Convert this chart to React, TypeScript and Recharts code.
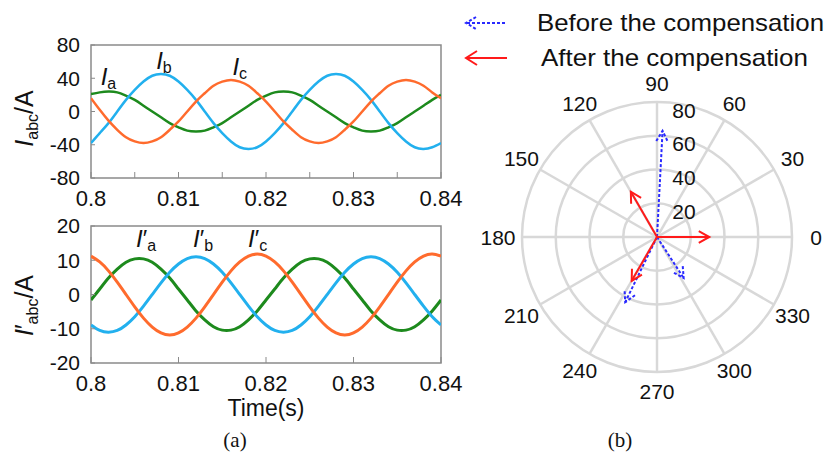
import React from "react";
import {
  LineChart,
  Line,
  XAxis,
  YAxis,
  ReferenceArea,
  ReferenceDot,
  RadarChart,
  Radar,
  PolarGrid,
  PolarAngleAxis,
  PolarRadiusAxis,
} from "recharts";

const FONT = '"Liberation Sans", Arial, sans-serif';
const SERIF = '"Liberation Serif", "Times New Roman", serif';
const GREEN = "#1d8a1d";
const BLUE = "#22b0ee";
const ORANGE = "#ff6b2d";
const FRAME = "#8a8a8a";
const INK = "#111";
const VEC_BEFORE = "#2a2aff";
const VEC_AFTER = "#ff1a1a";

// time axis (s)
const time = [
  0.8, 0.801, 0.802, 0.803, 0.804, 0.805, 0.806, 0.807, 0.808, 0.809, 0.81, 0.811, 0.812, 0.813,
  0.814, 0.815, 0.816, 0.817, 0.818, 0.819, 0.82, 0.821, 0.822, 0.823, 0.824, 0.825, 0.826, 0.827,
  0.828, 0.829, 0.83, 0.831, 0.832, 0.833, 0.834, 0.835, 0.836, 0.837, 0.838, 0.839, 0.84,
];

// (a) top: source currents before compensation (A)
const iaBefore = [
  21, 23, 24, 23, 19, 14, 7, 0, -7, -14, -19, -23, -24, -23, -19, -14, -7, 0, 7, 14, 19,
  23, 24, 23, 19, 14, 7, 0, -7, -14, -19, -23, -24, -23, -19, -14, -7, 0, 7, 14, 20,
];
const ibBefore = [
  -38, -26, -14, 0, 14, 26, 36, 43, 45, 43, 36, 26, 14, 0, -14, -26, -36, -43, -45, -43, -36,
  -26, -14, 0, 14, 26, 36, 43, 45, 43, 36, 26, 14, 0, -14, -26, -36, -43, -45, -43, -38,
];
const icBefore = [
  16, 2, -11, -22, -31, -36, -38, -36, -31, -22, -12, 0, 12, 22, 31, 36, 38, 36, 31, 22, 12,
  0, -12, -22, -31, -36, -38, -36, -31, -22, -12, 0, 12, 22, 31, 36, 38, 36, 31, 23, 16,
];

// (a) bottom: source currents after compensation (A)
const iaAfter = [
  -1.6, 1.6, 4.8, 7.4, 9.4, 10.4, 10.4, 9.4, 7.4, 4.8, 1.6, -1.6, -4.8, -7.4, -9.4, -10.4, -10.4, -9.4, -7.4, -4.8, -1.6,
  1.6, 4.8, 7.4, 9.4, 10.4, 10.4, 9.4, 7.4, 4.8, 1.6, -1.6, -4.8, -7.4, -9.4, -10.4, -10.4, -9.4, -7.4, -4.8, -1.6,
];
const ibAfter = [
  -8.9, -10.5, -11, -10.5, -8.9, -6.5, -3.4, 0, 3.4, 6.5, 8.9, 10.5, 11, 10.5, 8.9, 6.5, 3.4, 0, -3.4, -6.5, -8.9,
  -10.5, -11, -10.5, -8.9, -6.5, -3.4, 0, 3.4, 6.5, 8.9, 10.5, 11, 10.5, 8.9, 6.5, 3.4, 0, -3.4, -6.5, -8.9,
];
const icAfter = [
  11.2, 9.5, 6.9, 3.6, 0, -3.6, -6.9, -9.5, -11.2, -11.8, -11.2, -9.5, -6.9, -3.6, 0, 3.6, 6.9, 9.5, 11.2, 11.8, 11.2,
  9.5, 6.9, 3.6, 0, -3.6, -6.9, -9.5, -11.2, -11.8, -11.2, -9.5, -6.9, -3.6, 0, 3.6, 6.9, 9.5, 11.2, 11.8, 11.2,
];

const topXTicks = [0.8, 0.805, 0.81, 0.815, 0.82, 0.825, 0.83, 0.835, 0.84];
const bottomXTicks = [0.8, 0.81, 0.82, 0.83, 0.84];
const topYTicks = [-80, -40, 0, 40, 80];
const bottomYTicks = [-20, -10, 0, 10, 20];

// curve tags, placed in data coordinates
const topTags = [
  { t: 0.8011, v: 32, sub: "a" },
  { t: 0.80745, v: 51, sub: "b" },
  { t: 0.81616, v: 44, sub: "c" },
];
const bottomTags = [
  { t: 0.80514, v: 14, sub: "a" },
  { t: 0.81166, v: 14, sub: "b" },
  { t: 0.81794, v: 14, sub: "c" },
];

// (b) phasors: angle (deg) and magnitude
const phasorAngle = [0, 87, 120, 240, 244, 303];
const phasorBefore = [null, 63, null, null, 43, 29];
const phasorAfter = [31, null, 31, 30, null, null];
const angleTicks = [0, 30, 60, 90, 120, 150, 180, 210, 240, 270, 300, 330];

const LEGEND_BEFORE = "Before the compensation";
const LEGEND_AFTER = "After the compensation";

const topData = time.map((t, i) => ({ t, a: iaBefore[i], b: ibBefore[i], c: icBefore[i] }));
const bottomData = time.map((t, i) => ({ t, a: iaAfter[i], b: ibAfter[i], c: icAfter[i] }));
const phasorData = phasorAngle.map((angle, i) => ({
  angle,
  before: phasorBefore[i],
  after: phasorAfter[i],
}));

const xTickStyle = { fontSize: 22, fill: INK, fontFamily: FONT };
const yTickStyle = { fontSize: 21, fill: INK, fontFamily: FONT };
const fmtX = (v: number) => (Math.round(v * 1000) % 10 === 0 ? String(v) : "");

const yTitle = (prime: boolean, shift: number) => (props: any) => {
  const vb = props.viewBox || { y: 0, height: 0 };
  const x = 33;
  const y = vb.y + vb.height / 2 + shift;
  return (
    <text x={x} y={y} transform={`rotate(-90 ${x} ${y})`} textAnchor="middle" fontFamily={FONT} fontSize={25} fill={INK}>
      <tspan fontStyle="italic">I</tspan>
      {prime ? <tspan>′</tspan> : null}
      <tspan fontSize={16} dy={5}>abc</tspan>
      <tspan dy={-5}>/A</tspan>
    </text>
  );
};

const tagLabel = (sub: string, prime: boolean) => (props: any) => {
  const vb = props.viewBox || { x: 0, y: 0, width: 0, height: 0 };
  const x = vb.x + (vb.width || 0) / 2;
  const y = vb.y + (vb.height || 0) / 2;
  return (
    <text x={x} y={y} fontFamily={FONT} fontSize={24} fill={INK}>
      <tspan fontStyle="italic">I</tspan>
      {prime ? <tspan>′</tspan> : null}
      <tspan fontSize={16} dy={4}>{sub}</tspan>
    </text>
  );
};

const timeLabel = (props: any) => {
  const vb = props.viewBox || { x: 0, y: 0, width: 0 };
  return (
    <text x={vb.x + vb.width / 2} y={vb.y + 53} textAnchor="middle" fontFamily={FONT} fontSize={23} fill={INK}>
      Time(s)
    </text>
  );
};

// polar chart geometry
const RCX = 200;
const RCY = 200;

const angleTick = (props: any) => {
  const v = Number(props.payload?.value);
  if (!(v >= 0 && v < 360)) return <g />;
  const rad = (v * Math.PI) / 180;
  const r = 159 - 5 * Math.abs(Math.sin(rad));
  return (
    <text
      x={RCX + r * Math.cos(rad)}
      y={RCY - r * Math.sin(rad)}
      textAnchor="middle"
      dominantBaseline="central"
      fontFamily={FONT}
      fontSize={21}
      fill={INK}
    >
      {v}
    </text>
  );
};

const radiusTick = (props: any) => {
  const v = Number(props.payload?.value);
  if (!v) return <g />;
  return (
    <text x={props.x + 27} y={props.y + 8} textAnchor="middle" dominantBaseline="central" fontFamily={FONT} fontSize={21} fill={INK}>
      {v}
    </text>
  );
};

const vectorShape = (color: string, dash?: string) => (props: any) => {
  const pts = (props.points || []).filter(
    (p: any) => p.value != null && Number.isFinite(p.x) && Number.isFinite(p.y)
  );
  const head = 12;
  const spread = 0.5;
  return (
    <g>
      {pts.map((p: any, i: number) => {
        const cx = p.cx ?? RCX;
        const cy = p.cy ?? RCY;
        const dx = p.x - cx;
        const dy = p.y - cy;
        const len = Math.hypot(dx, dy) || 1;
        const bx = -dx / len;
        const by = -dy / len;
        const w1x = bx * Math.cos(spread) - by * Math.sin(spread);
        const w1y = bx * Math.sin(spread) + by * Math.cos(spread);
        const w2x = bx * Math.cos(-spread) - by * Math.sin(-spread);
        const w2y = bx * Math.sin(-spread) + by * Math.cos(-spread);
        return (
          <g key={i} stroke={color} strokeWidth={2} fill="none" strokeDasharray={dash}>
            <line x1={cx} y1={cy} x2={p.x} y2={p.y} />
            <polyline
              points={`${p.x + w1x * head},${p.y + w1y * head} ${p.x},${p.y} ${p.x + w2x * head},${p.y + w2y * head}`}
            />
          </g>
        );
      })}
    </g>
  );
};

function TopPanel() {
  return (
    <LineChart width={470} height={215} data={topData} margin={{ top: 45, right: 29, bottom: 7, left: 0 }}>
      <ReferenceArea x1={0.8} x2={0.84} y1={-80} y2={80} fill="none" stroke={FRAME} strokeWidth={1.5} />
      <XAxis
        dataKey="t"
        type="number"
        domain={[0.8, 0.84]}
        ticks={topXTicks}
        interval={0}
        tickFormatter={fmtX}
        allowDataOverflow
        axisLine={false}
        tickLine={{ stroke: FRAME }}
        tickSize={-6}
        tickMargin={18}
        height={30}
        tick={xTickStyle}
      />
      <YAxis
        type="number"
        domain={[-80, 80]}
        ticks={topYTicks}
        interval={0}
        allowDataOverflow
        axisLine={false}
        tickLine={{ stroke: FRAME }}
        tickSize={-4}
        tickMargin={15}
        width={91}
        tick={yTickStyle}
        label={yTitle(false, 7)}
      />
      <Line type="natural" dataKey="a" stroke={GREEN} strokeWidth={2.5} dot={false} isAnimationActive={false} />
      <Line type="natural" dataKey="b" stroke={BLUE} strokeWidth={2.5} dot={false} isAnimationActive={false} />
      <Line type="natural" dataKey="c" stroke={ORANGE} strokeWidth={2.5} dot={false} isAnimationActive={false} />
      {topTags.map((g) => (
        <ReferenceDot key={g.sub} x={g.t} y={g.v} r={0} fill="none" stroke="none" label={tagLabel(g.sub, false)} />
      ))}
    </LineChart>
  );
}

function BottomPanel() {
  return (
    <LineChart width={470} height={215} data={bottomData} margin={{ top: 16, right: 29, bottom: 2, left: 0 }}>
      <ReferenceArea x1={0.8} x2={0.84} y1={-20} y2={20} fill="none" stroke={FRAME} strokeWidth={1.5} />
      <XAxis
        dataKey="t"
        type="number"
        domain={[0.8, 0.84]}
        ticks={bottomXTicks}
        interval={0}
        tickFormatter={fmtX}
        allowDataOverflow
        axisLine={false}
        tickLine={{ stroke: FRAME }}
        tickSize={-6}
        tickMargin={18}
        height={60}
        tick={xTickStyle}
        label={timeLabel}
      />
      <YAxis
        type="number"
        domain={[-20, 20]}
        ticks={bottomYTicks}
        interval={0}
        allowDataOverflow
        axisLine={false}
        tickLine={{ stroke: FRAME }}
        tickSize={-4}
        tickMargin={15}
        width={91}
        tick={yTickStyle}
        label={yTitle(true, 11)}
      />
      <Line type="natural" dataKey="a" stroke={GREEN} strokeWidth={3} dot={false} isAnimationActive={false} />
      <Line type="natural" dataKey="b" stroke={BLUE} strokeWidth={3} dot={false} isAnimationActive={false} />
      <Line type="natural" dataKey="c" stroke={ORANGE} strokeWidth={3} dot={false} isAnimationActive={false} />
      {bottomTags.map((g) => (
        <ReferenceDot key={g.sub} x={g.t} y={g.v} r={0} fill="none" stroke="none" label={tagLabel(g.sub, true)} />
      ))}
    </LineChart>
  );
}

function PhasorPanel() {
  return (
    <RadarChart
      width={400}
      height={400}
      cx={RCX}
      cy={RCY}
      innerRadius={0}
      outerRadius={135}
      startAngle={0}
      endAngle={360}
      data={phasorData}
      margin={{ top: 0, right: 0, bottom: 0, left: 0 }}
    >
      <PolarGrid gridType="circle" stroke="#d8d8d8" strokeWidth={2.5} polarAngles={angleTicks} />
      <PolarAngleAxis
        dataKey="angle"
        type="number"
        domain={[0, 360]}
        tickCount={13}
        axisLine={false}
        tickLine={false}
        tick={angleTick}
      />
      <PolarRadiusAxis angle={90} domain={[0, 80]} tickCount={5} axisLine={false} tickLine={false} tick={radiusTick} />
      <Radar
        dataKey="before"
        name={LEGEND_BEFORE}
        stroke={VEC_BEFORE}
        fill="none"
        shape={vectorShape(VEC_BEFORE, "3 2")}
        isAnimationActive={false}
      />
      <Radar
        dataKey="after"
        name={LEGEND_AFTER}
        stroke={VEC_AFTER}
        fill="none"
        shape={vectorShape(VEC_AFTER)}
        isAnimationActive={false}
      />
    </RadarChart>
  );
}

function PhasorLegend() {
  return (
    <svg width={372} height={80} style={{ position: "absolute", left: 455, top: 0 }}>
      <g stroke={VEC_BEFORE} strokeWidth={2} fill="none" strokeDasharray="3 2">
        <line x1={12} y1={23} x2={52} y2={23} />
        <polyline points="21,17 11,23 21,29" />
      </g>
      <g stroke={VEC_AFTER} strokeWidth={2} fill="none">
        <line x1={11} y1={58} x2={52} y2={58} />
        <polyline points="22,51 11,58 22,65" />
      </g>
      <text x={82} y={31} fontFamily={FONT} fontSize={24} fill={INK} textLength={287} lengthAdjust="spacingAndGlyphs">
        {LEGEND_BEFORE}
      </text>
      <text x={86} y={66} fontFamily={FONT} fontSize={24} fill={INK} textLength={267} lengthAdjust="spacingAndGlyphs">
        {LEGEND_AFTER}
      </text>
    </svg>
  );
}

export default function App() {
  return (
    <div style={{ position: "absolute", left: 0, top: 0, width: 827, height: 459, background: "#fff", overflow: "hidden" }}>
      <div style={{ position: "absolute", left: 0, top: 0 }}>
        <TopPanel />
      </div>
      <div style={{ position: "absolute", left: 0, top: 210 }}>
        <BottomPanel />
      </div>
      <div style={{ position: "absolute", left: 457, top: 37 }}>
        <PhasorPanel />
      </div>
      <PhasorLegend />
      <div style={{ position: "absolute", left: 215, top: 428, width: 40, textAlign: "center", fontFamily: SERIF, fontSize: 21, color: INK }}>
        (a)
      </div>
      <div style={{ position: "absolute", left: 600, top: 428, width: 40, textAlign: "center", fontFamily: SERIF, fontSize: 21, color: INK }}>
        (b)
      </div>
    </div>
  );
}
